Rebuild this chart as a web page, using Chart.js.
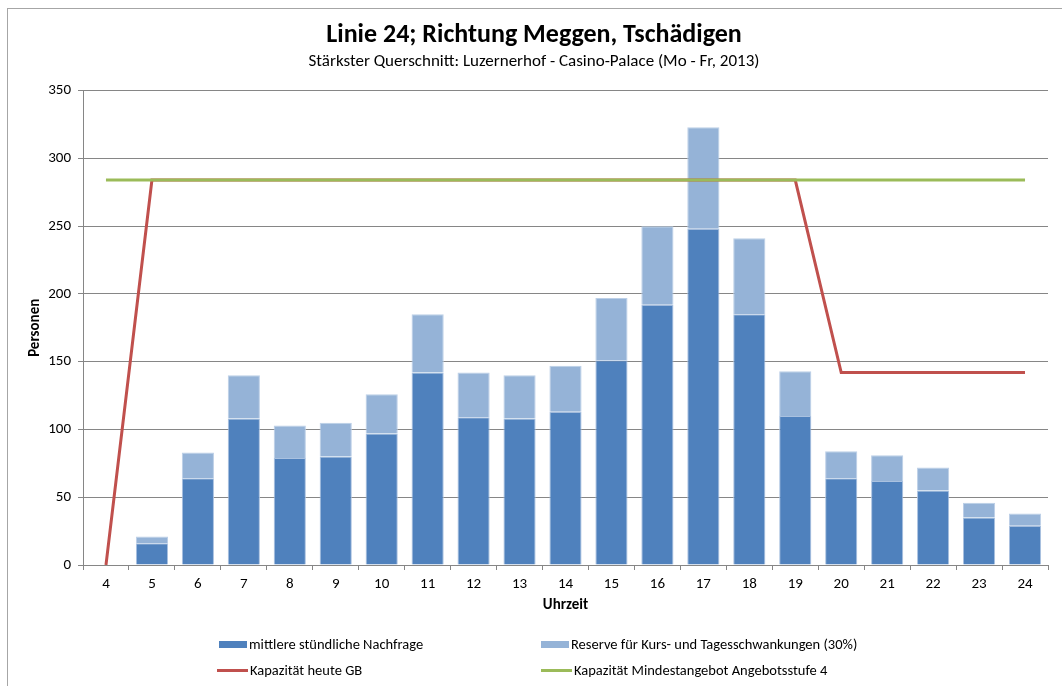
<!DOCTYPE html>
<html>
<head>
<meta charset="utf-8">
<script src="https://cdn.jsdelivr.net/npm/chart.js@4.4.1/dist/chart.umd.min.js"></script>
<style>
    body { margin: 0; background: #fff; font-family: Carlito, "Liberation Sans Narrow", "Open Sans", sans-serif; }
    #wrap { position: relative; width: 1062px; height: 686px; overflow: hidden; }
    #frame { position: absolute; left: 7px; top: 8px; width: 1070px; height: 700px; border: 1px solid #a6a6a6; box-sizing: border-box; }
    canvas { position: absolute; left: 0; top: 0; }
    .legend { position: absolute; font-size: 14.5px; color: #000; white-space: nowrap; }
    .legend .item { position: absolute; display: flex; align-items: center; }
    .legend .mark { display: inline-block; margin-right: 2px; }
</style>
</head>
<body>
<div id="wrap">
    <div id="frame"></div>
    <canvas id="chart" width="1062" height="686"></canvas>
    <div class="legend" id="legend"></div>
</div>
<script>
// Stundenwerte Linie 24
const hours = ['4', '5', '6', '7', '8', '9', '10', '11', '12', '13', '14', '15', '16', '17', '18', '19', '20', '21', '22', '23', '24'];
const demand = [0, 16, 64, 108, 79, 80, 97, 142, 109, 108, 113, 151, 192, 248, 185, 110, 64, 62, 55, 35, 29];
const reserve = [0, 5, 19, 32, 24, 25, 29, 43, 33, 32, 34, 46, 58, 75, 56, 33, 20, 19, 17, 11, 9];
const capToday = [0, 284, 284, 284, 284, 284, 284, 284, 284, 284, 284, 284, 284, 284, 284, 284, 142, 142, 142, 142, 142];
const capMin = [284, 284, 284, 284, 284, 284, 284, 284, 284, 284, 284, 284, 284, 284, 284, 284, 284, 284, 284, 284, 284];
const yTicks = [0, 50, 100, 150, 200, 250, 300, 350];

const fontFamily = 'Carlito, "Liberation Sans Narrow", "Open Sans", sans-serif';
const gridColor = '#868686';

const labels = {
    demand: 'mittlere stündliche Nachfrage',
    reserve: 'Reserve für Kurs- und Tagesschwankungen (30%)',
    capToday: 'Kapazität heute GB',
    capMin: 'Kapazität Mindestangebot Angebotsstufe 4'
};

const ctx = document.getElementById('chart').getContext('2d');
const chart = new Chart(ctx, {
    type: 'bar',
    data: {
        labels: hours,
        datasets: [
            {
                label: labels.demand,
                data: demand,
                backgroundColor: '#4f81bd',
                borderColor: '#a9c1e0',
                borderWidth: 1,
                stack: 'bars',
                order: 3
            },
            {
                label: labels.reserve,
                data: reserve,
                backgroundColor: '#95b3d7',
                borderColor: '#bccfe7',
                borderWidth: 1,
                stack: 'bars',
                order: 3
            },
            {
                type: 'line',
                label: labels.capToday,
                data: capToday,
                borderColor: '#c0504d',
                backgroundColor: '#c0504d',
                borderWidth: 3,
                pointRadius: 0,
                tension: 0,
                stack: 'red',
                order: 1
            },
            {
                type: 'line',
                label: labels.capMin,
                data: capMin,
                borderColor: '#9bbb59',
                backgroundColor: '#9bbb59',
                borderWidth: 3,
                pointRadius: 0,
                tension: 0,
                stack: 'green',
                order: 0
            }
        ]
    },
    options: {
        responsive: false,
        animation: false,
        layout: { padding: { left: 20, right: 14, top: 10, bottom: 71 } },
        datasets: {
            bar: { categoryPercentage: 1, barPercentage: 0.7 }
        },
        plugins: {
            legend: { display: false },
            tooltip: { enabled: false },
            title: {
                display: true,
                text: 'Linie 24; Richtung Meggen, Tschädigen',
                color: '#000',
                font: { family: fontFamily, size: 26, weight: 'bold' },
                padding: { top: 10, bottom: 0 }
            },
            subtitle: {
                display: true,
                text: 'Stärkster Querschnitt: Luzernerhof - Casino-Palace (Mo - Fr, 2013)',
                color: '#000',
                font: { family: fontFamily, size: 17 },
                padding: { top: 0, bottom: 19 }
            }
        },
        scales: {
            x: {
                stacked: true,
                offset: true,
                grid: {
                    offset: true,
                    drawOnChartArea: false,
                    drawTicks: true,
                    tickLength: 5,
                    color: gridColor
                },
                border: { color: gridColor },
                ticks: {
                    color: '#000',
                    padding: 5,
                    maxRotation: 0,
                    font: { family: fontFamily, size: 15 }
                },
                title: {
                    display: true,
                    text: 'Uhrzeit',
                    color: '#000',
                    font: { family: fontFamily, size: 15, weight: 'bold' },
                    padding: { top: 0, bottom: 1 }
                },
                afterFit: function(scale) { scale.height = 50; }
            },
            y: {
                stacked: true,
                min: 0,
                max: 350,
                afterBuildTicks: function(scale) {
                    scale.ticks = yTicks.map(function(v) { return { value: v }; });
                },
                grid: {
                    color: gridColor,
                    tickLength: 5
                },
                border: { color: gridColor },
                ticks: {
                    color: '#000',
                    padding: 7,
                    font: { family: fontFamily, size: 15 }
                },
                title: {
                    display: true,
                    text: 'Personen',
                    color: '#000',
                    font: { family: fontFamily, size: 15, weight: 'bold' },
                    padding: { top: 6, bottom: 0 }
                },
                afterFit: function(scale) { scale.width = 63; }
            }
        }
    }
});

// Legende (zweispaltig wie im Original)
function buildLegend() {
    const legend = document.getElementById('legend');
    const slots = [
        { x: 219, y: 644 }, { x: 541, y: 644 },
        { x: 217, y: 670 }, { x: 541, y: 670 }
    ];
    chart.data.datasets.forEach(function(ds, i) {
        const item = document.createElement('div');
        item.className = 'item';
        item.style.left = slots[i].x + 'px';
        item.style.top = (slots[i].y - 9) + 'px';
        item.style.height = '18px';
        const mark = document.createElement('span');
        mark.className = 'mark';
        if (ds.type === 'line') {
            mark.style.width = '31px';
            mark.style.height = '3px';
            mark.style.background = ds.borderColor;
        } else {
            mark.style.width = '28px';
            mark.style.height = '7px';
            mark.style.background = ds.backgroundColor;
        }
        const text = document.createElement('span');
        text.textContent = ds.label;
        item.appendChild(mark);
        item.appendChild(text);
        legend.appendChild(item);
    });
}
buildLegend();
</script>
</body>
</html>
